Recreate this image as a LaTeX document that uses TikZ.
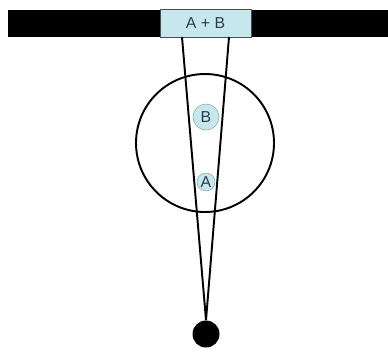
\documentclass[tikz,border=0pt]{standalone}
\usepackage{fontspec}
\setsansfont{Liberation Sans}
\definecolor{paleblue}{RGB}{198,232,236}
\definecolor{inkblue}{RGB}{45,60,75}

\begin{document}
\begin{tikzpicture}[x=0.02cm, y=-0.02cm,
  every node/.style={inner sep=0pt, font=\sffamily\fontsize{9}{10}\selectfont, text=inkblue}]
  \useasboundingbox (0,0) rectangle (388,353);

  % screen bar and the merged spot
  \node (bar) [fill=black, minimum width=380*0.02cm, minimum height=27*0.02cm] at (198,23.5) {};
  \node (ab) [fill=paleblue, draw=black!70, line width=0.4pt, minimum width=91*0.02cm, minimum height=28*0.02cm] at (205.5,23) {A + B};

  % the eye and the two points
  \node (eye) [circle, draw, line width=1.1pt, minimum size=138*0.02cm] at (205,143) {};
  \node (B) [circle, fill=paleblue, draw=paleblue!70!black, line width=0.3pt, minimum size=26*0.02cm] at (206,117) {B};
  \node (A) [circle, fill=paleblue, draw=paleblue!70!black, line width=0.3pt, minimum size=18*0.02cm] at (206,182) {A};

  % the viewer
  \node (dot) [circle, fill=black, minimum size=27*0.02cm] at (206,334) {};

  % sight lines
  \coordinate (left) at (182,37);
  \coordinate (right) at (229,37);
  \draw[line width=1.1pt] (dot.north) -- (left);
  \draw[line width=1.1pt] (dot.north) -- (right);
\end{tikzpicture}
\end{document}
